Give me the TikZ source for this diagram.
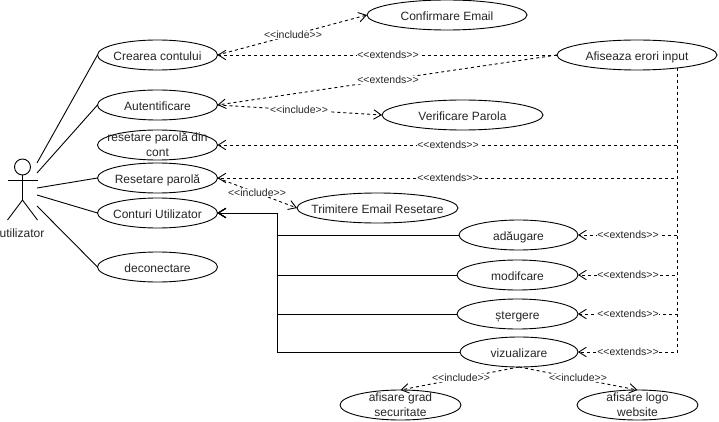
\documentclass[tikz,border=0pt]{standalone}
\usepackage{fontspec}
\setmainfont{Liberation Sans}
\usetikzlibrary{shapes.geometric,arrows.meta}
\newcommand{\uctext}[1]{\makebox[0pt]{\smash{\raisebox{-0.42em}{#1}}}}
\newcommand{\uctwo}[2]{\makebox[0pt]{\smash{\raisebox{-0.36em}{\begin{tabular}[c]{@{}c@{}}#1\\#2\end{tabular}}}}}
\newcommand{\incl}{<\kern0pt<include>\kern0pt>}
\newcommand{\extn}{<\kern0pt<extends>\kern0pt>}
\tikzset{
  usecase/.style={draw=black,fill=white,ellipse,inner sep=0pt,outer sep=0pt,minimum height=30pt,line width=0.9pt,
    font=\fontsize{12}{15}\selectfont,text=black!85},
  lbl/.style={fill=white,inner sep=0.6pt,font=\fontsize{10.5}{12}\selectfont,text=black!85},
  assoc/.style={draw=black,line width=0.9pt},
  dep/.style={draw=black,line width=0.9pt,dash pattern=on 3pt off 3pt,-{Straight Barb[length=7.5pt,width=9.5pt]}},
  solidarrow/.style={draw=black,line width=0.9pt,-{Straight Barb[length=7.5pt,width=9.5pt]}},
}
\begin{document}
\begin{tikzpicture}[x=1pt,y=-1pt]
\useasboundingbox (0,0) rectangle (719,422);
% use cases
\node[usecase,minimum width=160pt] (confirm) at (447,15) {\uctext{Confirmare Email}};
\node[usecase,minimum width=120pt] (crearea) at (157.5,55) {\uctext{Crearea contului}};
\node[usecase,minimum width=160pt] (afis) at (637,55) {\uctext{Afiseaza erori input}};
\node[usecase,minimum width=120pt] (auth) at (157.5,105) {\uctext{Autentificare}};
\node[usecase,minimum width=161pt] (verif) at (462.5,115) {\uctext{Verificare Parola}};
\node[usecase,minimum width=120pt] (rcont) at (157.5,145) {\uctwo{resetare parolă din}{cont}};
\node[usecase,minimum width=120pt] (reset) at (157.5,178) {\uctext{Resetare parolă}};
\node[usecase,minimum width=161pt] (trim) at (377.5,208) {\uctext{Trimitere Email Resetare}};
\node[usecase,minimum width=120pt] (cont) at (157.5,213) {\uctext{Conturi Utilizator}};
\node[usecase,minimum width=120pt] (decon) at (157.5,267) {\uctext{deconectare}};
\node[usecase,minimum width=119pt] (adaug) at (518.5,235) {\uctext{adăugare}};
\node[usecase,minimum width=121pt] (modif) at (517.5,275) {\uctext{modifcare}};
\node[usecase,minimum width=121pt] (sterg) at (517.5,314) {\uctext{ștergere}};
\node[usecase,minimum width=118pt] (vizu) at (519,352) {\uctext{vizualizare}};
\node[usecase,minimum width=121pt] (grad) at (400.5,405) {\uctwo{afisare grad}{securitate}};
\node[usecase,minimum width=121pt] (logo) at (637.5,405) {\uctwo{afisare logo}{website}};
% actor
\coordinate (hip) at (22.5,200);
\node[circle,draw=black,line width=0.9pt,minimum size=16pt,inner sep=0pt,outer sep=0pt] (head) at (22.5,167) {};
\draw[assoc] (head.south) -- (hip);
\coordinate (armL) at (7.5,180); \coordinate (armR) at (37.5,180);
\coordinate (footL) at (7.5,220); \coordinate (footR) at (37.5,220);
\draw[assoc] (armL) -- (armR);
\draw[assoc] (footL) -- (hip) -- (footR);
\node[font=\fontsize{12}{15}\selectfont,text=black!85,inner sep=0pt] (actor) at (22,233.5) {utilizator};
% associations
\coordinate (a1) at (37,163); \coordinate (a2) at (37,173); \coordinate (a3) at (37,188);
\coordinate (a4) at (37,195); \coordinate (a5) at (37,206);
\draw[assoc] (a1) -- (crearea.west);
\draw[assoc] (a2) -- (auth.west);
\draw[assoc] (a3) -- (reset.west);
\draw[assoc] (a4) -- (cont.west);
\draw[assoc] (a5) -- (decon.west);
% includes
\draw[dep] (crearea.east) -- (confirm.west);
\draw[dep] (auth.east) -- (verif.west);
\draw[dep] (reset.east) -- (trim.west);
\draw[dep] (vizu.south) -- (grad.north);
\draw[dep] (vizu.south) -- (logo.north);
% extends
\coordinate (trunk) at (677.5,68);
\draw[dep] (afis.west) -- (crearea.east);
\draw[dep] (afis.west) -- (auth.east);
\draw[dep] (trunk) |- (rcont.east);
\draw[dep] (trunk) |- (reset.east);
\draw[dep] (trunk) |- (adaug.east);
\draw[dep] (trunk) |- (modif.east);
\draw[dep] (trunk) |- (sterg.east);
\draw[dep] (trunk) |- (vizu.east);
% solid connectors to Conturi Utilizator
\coordinate (bus) at (277,213);
\draw[solidarrow] (adaug.west) -| (bus) -- (cont.east);
\draw[solidarrow] (modif.west) -| (bus) -- (cont.east);
\draw[solidarrow] (sterg.west) -| (bus) -- (cont.east);
\draw[solidarrow] (vizu.west) -| (bus) -- (cont.east);
% labels
\node[lbl] (l1) at (293,35) {\incl};
\node[lbl] (l2) at (388,55) {\extn};
\node[lbl] (l3) at (388,80) {\extn};
\node[lbl] (l4) at (299,110) {\incl};
\node[lbl] (l5) at (448,145) {\extn};
\node[lbl] (l6) at (448,178) {\extn};
\node[lbl] (l7) at (257,193) {\incl};
\node[lbl] (l8) at (628,235) {\extn};
\node[lbl] (l9) at (628,275) {\extn};
\node[lbl] (l10) at (628,314) {\extn};
\node[lbl] (l11) at (628,352) {\extn};
\node[lbl] (l12) at (461,378) {\incl};
\node[lbl] (l13) at (578,378) {\incl};
\end{tikzpicture}
\end{document}
